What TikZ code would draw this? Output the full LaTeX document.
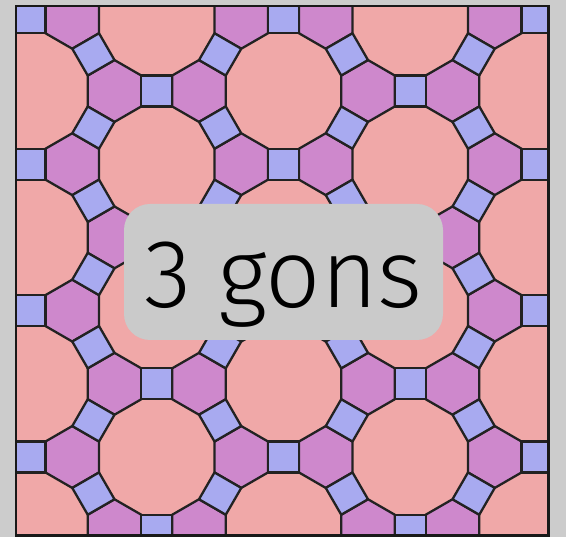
\documentclass[tikz,border=0pt]{standalone}
\usepackage{fontspec}
\setmainfont{TeX Gyre Heros}
\newfontfamily\lightfont{Fira Sans Light}
\usetikzlibrary{positioning}

\definecolor{dodecafill}{HTML}{F0A8A8}
\definecolor{hexafill}{HTML}{CE88CC}
\definecolor{quadfill}{HTML}{A8AAF0}
\definecolor{pagegray}{HTML}{CCCCCC}
\definecolor{boxgray}{HTML}{CACACA}
\definecolor{edgeline}{HTML}{222222}

\newcommand{\edgelen}{30.93}
\newcommand{\halfdiag}{21.87}

\begin{document}
\begin{tikzpicture}[
    x=1pt, y=1pt,
    cell/.style={draw=edgeline, line width=2.3pt, line join=round},
    hexcell/.style={cell, fill=hexafill},
    quadcell/.style={cell, fill=quadfill},
    frame/.style={draw=black!90, line width=2.6pt},
    gonsbox/.style={fill=boxgray, rounded corners=26pt, minimum width=319pt, minimum height=136pt, inner sep=0pt, text depth=0pt, text height=72pt},
    pics/hexagon/.style={code={\path[hexcell] (30:\edgelen) -- (90:\edgelen) -- (150:\edgelen) -- (210:\edgelen) -- (270:\edgelen) -- (330:\edgelen) -- cycle;}},
    pics/square/.style={code={\path[quadcell] ({#1}:\halfdiag) -- ({#1+90}:\halfdiag) -- ({#1+180}:\halfdiag) -- ({#1+270}:\halfdiag) -- cycle;}}
]

% Page and tile field
\fill[pagegray] (0,0) rectangle (566,537);
\useasboundingbox (0,0) rectangle (566,537);
\fill[dodecafill] (16,1.5) rectangle (548.5,531);

% Hexagons and squares around the dodecagons
\begin{scope}
\clip (16,1.5) rectangle (548.5,531);
\foreach \m in {-1,...,5}{
  \foreach \n in {-5,...,5}{
    \coordinate (P) at ({30+126.75*\m},{446-73.2*\m-146.4*\n});
    \begin{scope}[shift={(P)}]
      \pic at (42.25,-73.2) {hexagon};
      \pic at (84.5,0) {hexagon};
      \pic at (0,-73.2) {square=45};
      \pic at (63.375,-36.6) {square=15};
      \pic at (63.375,36.6) {square=75};
    \end{scope}
  }
}
\end{scope}

\draw[frame] (16,1.5) rectangle (548.5,531);

% Label
\node[gonsbox] (gons) at (283.5,265) {\lightfont\fontsize{97}{97}\selectfont 3 gons};

\end{tikzpicture}
\end{document}
